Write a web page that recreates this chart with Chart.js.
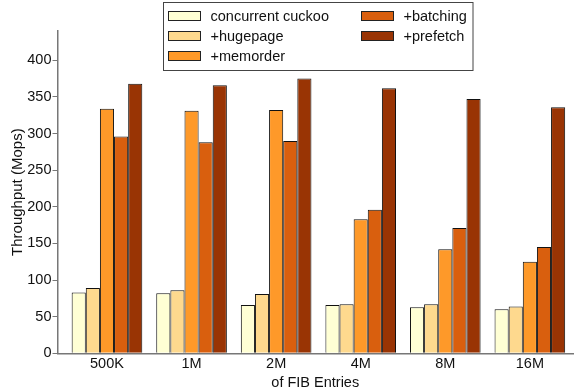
<!DOCTYPE html>
<html>
<head>
<meta charset="utf-8">
<script src="https://cdn.jsdelivr.net/npm/chart.js@4"></script>
<style>
  html, body { margin: 0; padding: 0; background: #fff; }
  #wrap { width: 574px; height: 392px; }
</style>
</head>
<body>
<div id="wrap"><canvas id="chart" width="574" height="392"></canvas></div>
<script>
const categories = ['500K', '1M', '2M', '4M', '8M', '16M'];
const seriesNames = ['concurrent cuckoo', '+hugepage', '+memorder', '+batching', '+prefetch'];
const cuckoo   = [83, 82, 66, 66, 63, 60];
const hugepage = [89, 86, 81, 67, 67, 64];
const memorder = [334, 331, 332, 183, 142, 125];
const batching = [296, 288, 290, 196, 171, 145];
const prefetch = [368, 366, 375, 362, 347, 336];
const yTicks = [0, 50, 100, 150, 200, 250, 300, 350, 400];

const colors = ['#ffffd4', '#fed98e', '#fe9929', '#d95f0e', '#993404'];
const FONT = '"Liberation Sans", Arial, Helvetica, sans-serif';

const legendBox = {
    id: 'legendBox',
    afterDraw(chart) {
        const ctx = chart.ctx;
        ctx.save();
        ctx.fillStyle = '#fff';
        ctx.fillRect(163.5, 2.5, 309.5, 68);
        ctx.strokeStyle = '#444';
        ctx.lineWidth = 1;
        ctx.strokeRect(163.5, 2.5, 309.5, 68);
        ctx.font = '14.5px ' + FONT;
        ctx.textBaseline = 'middle';
        chart.data.datasets.forEach((ds, i) => {
            const col = i < 3 ? 0 : 1;
            const row = i < 3 ? i : i - 3;
            const x = col ? 361.5 : 168.5;
            const y = 11.5 + row * 20;
            ctx.fillStyle = ds.backgroundColor;
            ctx.fillRect(x, y, 32, 9);
            ctx.strokeStyle = '#222';
            ctx.strokeRect(x, y, 32, 9);
            ctx.fillStyle = '#111';
            ctx.fillText(ds.label, x + 42, y + 5);
        });
        ctx.restore();
    }
};

const allSeries = [cuckoo, hugepage, memorder, batching, prefetch];

new Chart(document.getElementById('chart'), {
    type: 'bar',
    data: {
        datasets: allSeries.map((vals, i) => ({
            label: seriesNames[i],
            data: vals.map((v, j) => ({ x: j + 1, y: v })),
            backgroundColor: colors[i],
            borderColor: '#111',
            borderWidth: 1,
            categoryPercentage: 0.835,
            barPercentage: 1
        }))
    },
    options: {
        responsive: false,
        animation: false,
        layout: { padding: { top: 31, right: 1, left: 0, bottom: 0 } },
        plugins: { legend: { display: false }, tooltip: { enabled: false } },
        scales: {
            x: {
                type: 'linear',
                offset: false,
                min: 0.415,
                max: 6.51,
                afterBuildTicks: s => { s.ticks = categories.map((c, i) => ({ value: i + 1 })); },
                afterFit: s => { s.height = 38.7; },
                grid: { display: false, drawTicks: false },
                border: { display: true, color: '#777', width: 1.5 },
                ticks: {
                    callback: v => categories[v - 1] || '',
                    color: '#111',
                    font: { family: FONT, size: 14.5 },
                    padding: 2,
                    maxRotation: 0
                },
                title: {
                    display: true,
                    text: 'of FIB Entries',
                    color: '#111',
                    font: { family: FONT, size: 14.5 },
                    padding: { top: 0, bottom: 0 }
                }
            },
            y: {
                min: 0,
                max: 440,
                afterBuildTicks: s => { s.ticks = yTicks.map(v => ({ value: v })); },
                afterFit: s => { s.width = 57.5; },
                grid: { drawOnChartArea: false, drawTicks: true, tickLength: 5, color: '#777' },
                border: { display: true, color: '#777', width: 1.5 },
                ticks: {
                    color: '#111',
                    font: { family: FONT, size: 14.5 },
                    padding: 1
                },
                title: {
                    display: true,
                    text: 'Throughput (Mops)',
                    color: '#111',
                    font: { family: FONT, size: 15 },
                    padding: { top: 9, bottom: 0 }
                }
            }
        }
    },
    plugins: [legendBox]
});
</script>
</body>
</html>
